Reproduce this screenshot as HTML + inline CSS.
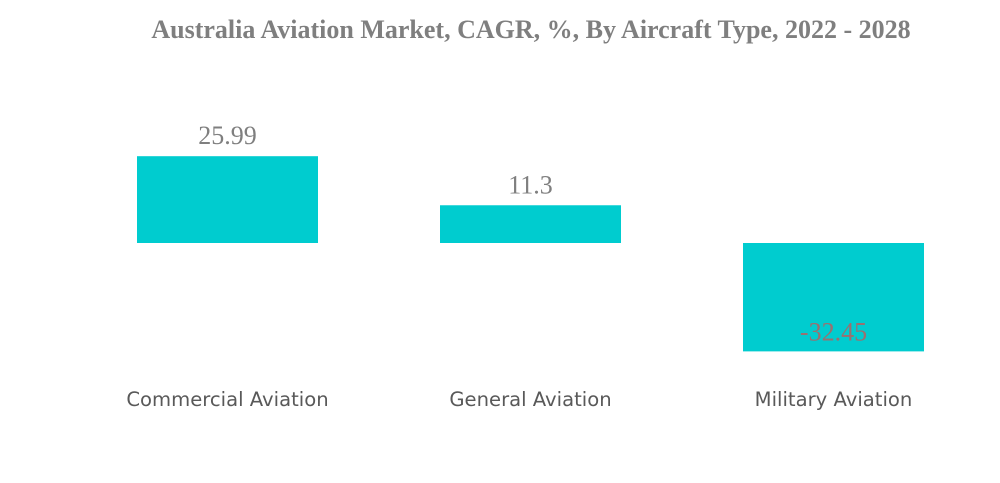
<!DOCTYPE html>
<html><head><meta charset="utf-8"><style>
body{margin:0;background:#fff;width:1000px;height:483px;overflow:hidden}
svg{display:block}
</style></head><body>
<svg width="1000" height="483">
<text x="531" y="38" text-anchor="middle" font-family="Liberation Serif, serif" font-weight="bold" font-size="26" fill="#7f7f7f">Australia Aviation Market, CAGR, %, By Aircraft Type, 2022 - 2028</text>
<g id="bars"></g>
</svg>
<script>
const categories = ["Commercial Aviation","General Aviation","Military Aviation"];
const values = [25.99, 11.3, -32.45];
const valueLabels = ["25.99","11.3","-32.45"];
const zeroY = 243, pxPerUnit = 3.34, x0 = 137, step = 303, barW = 181;
function yScale(v){ return zeroY - v*pxPerUnit; }
const g = document.getElementById('bars');
const ns = 'http://www.w3.org/2000/svg';
values.forEach((v,i)=>{
  const x = x0 + i*step;
  const y1 = Math.min(yScale(v), zeroY), y2 = Math.max(yScale(v), zeroY);
  const r = document.createElementNS(ns,'rect');
  r.setAttribute('x',x); r.setAttribute('y',y1); r.setAttribute('width',barW); r.setAttribute('height',y2-y1);
  r.setAttribute('fill','#00cccf');
  
  
  g.appendChild(r);
  const t = document.createElementNS(ns,'text');
  t.setAttribute('x', x+barW/2);
  t.setAttribute('y', v>=0 ? y1-12 : y2-11);
  t.setAttribute('text-anchor','middle');
  t.setAttribute('font-family','Liberation Serif, serif');
  t.setAttribute('font-size','26');
  t.setAttribute('fill', v>=0 ? '#7f7f7f' : '#9a7070');
  t.textContent = valueLabels[i];
  
  
  g.appendChild(t);
  const c = document.createElementNS(ns,'text');
  c.setAttribute('x', x+barW/2);
  c.setAttribute('y', 406);
  c.setAttribute('text-anchor','middle');
  c.setAttribute('font-family','DejaVu Sans, Liberation Sans, sans-serif');
  c.setAttribute('font-size','19.6');
  c.setAttribute('fill','#595959');
  c.textContent = categories[i];
  
  
  g.appendChild(c);
});
</script>
</body></html>
